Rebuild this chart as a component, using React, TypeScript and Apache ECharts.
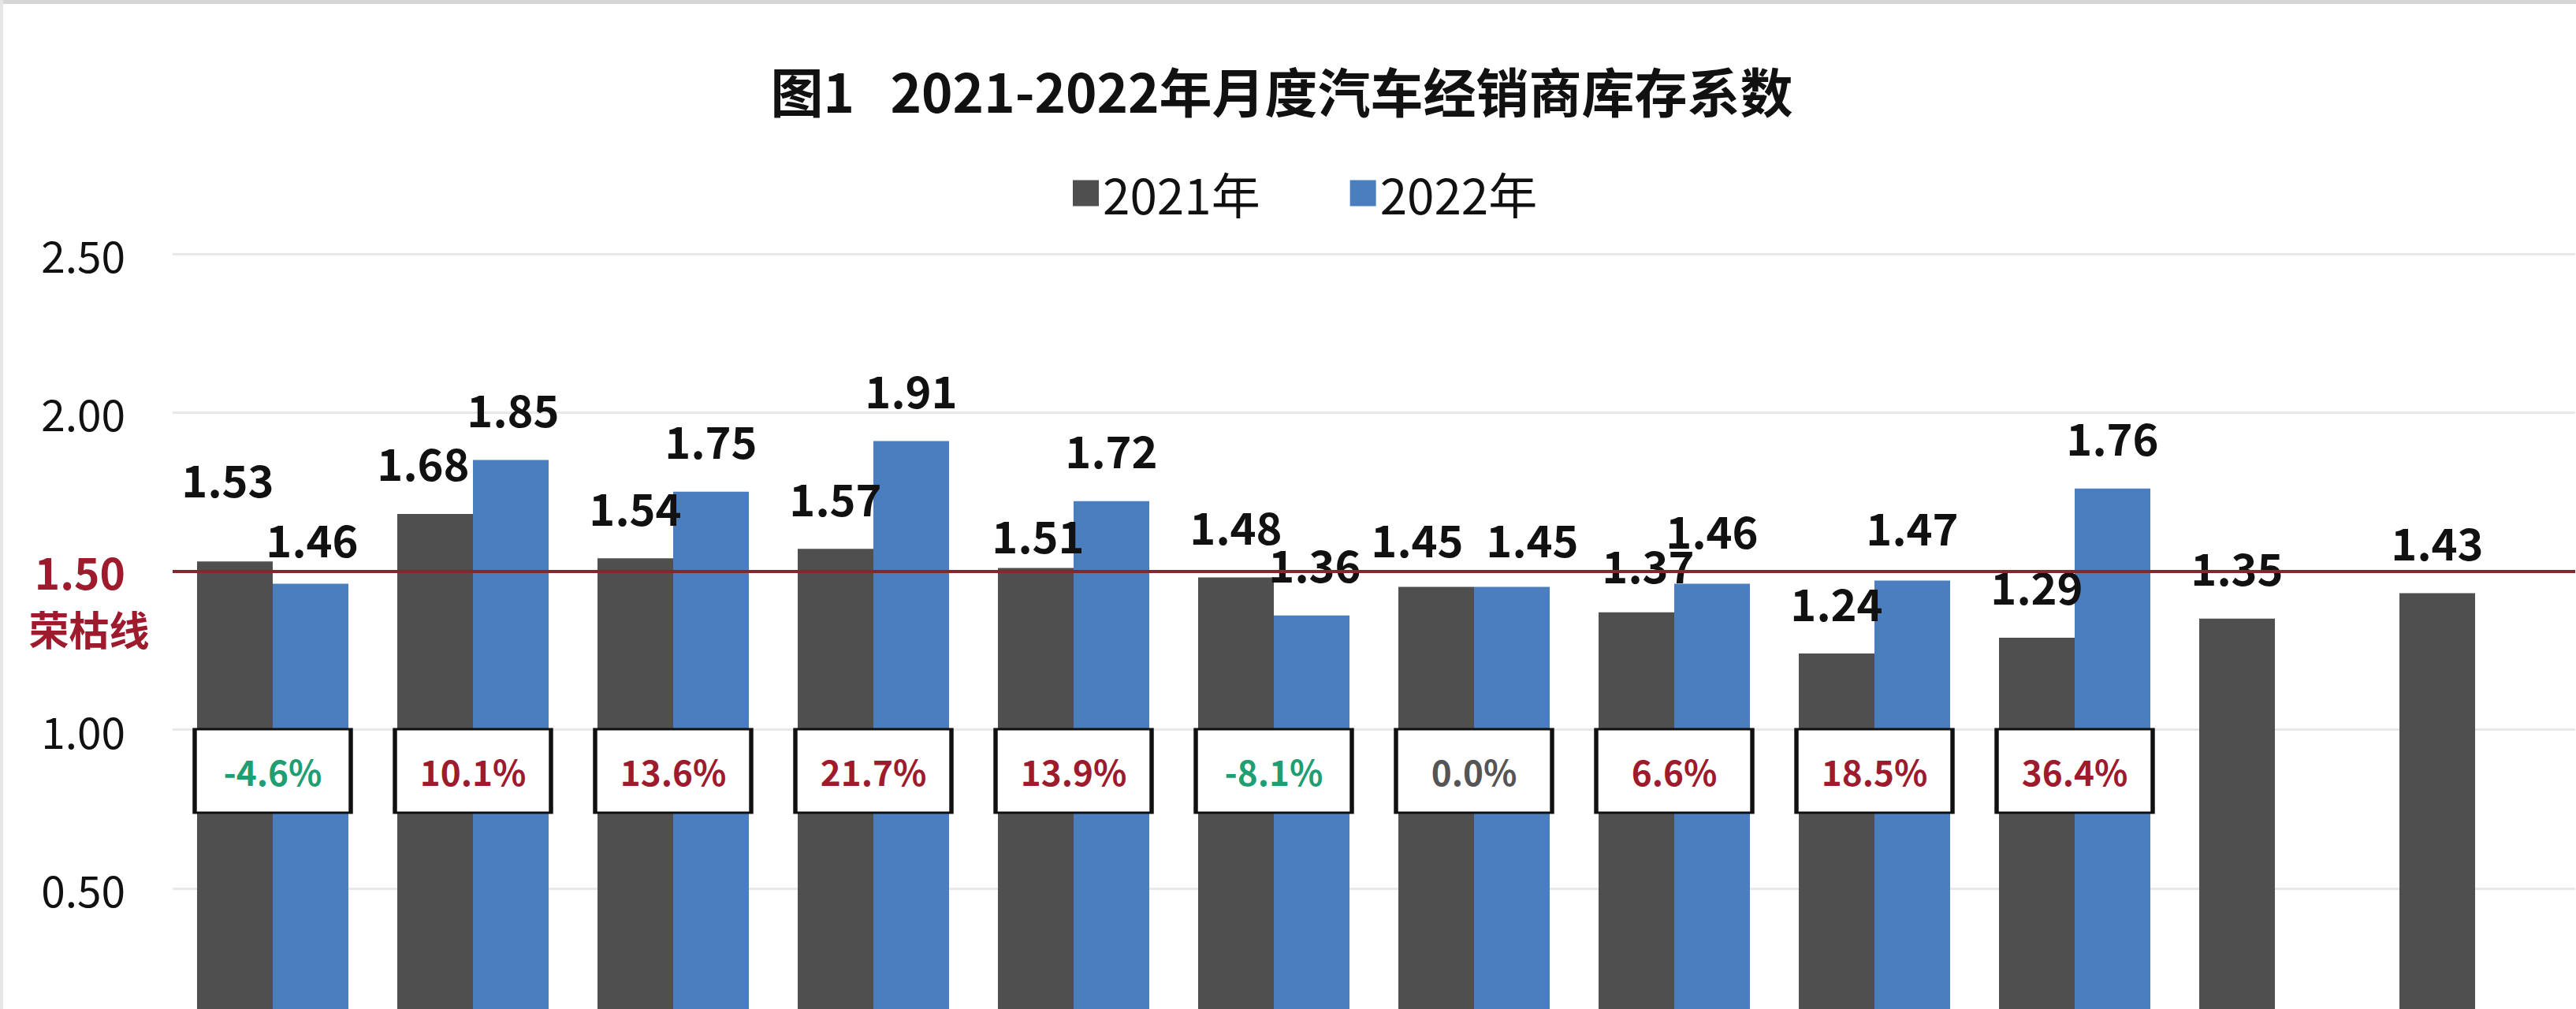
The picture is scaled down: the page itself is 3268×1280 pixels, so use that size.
import React, { useEffect, useRef } from "react";
import * as echarts from "echarts";

// ---- data ----
const months = ["1月", "2月", "3月", "4月", "5月", "6月", "7月", "8月", "9月", "10月", "11月", "12月"];
const values2021 = [1.53, 1.68, 1.54, 1.57, 1.51, 1.48, 1.45, 1.37, 1.24, 1.29, 1.35, 1.43];
const values2022 = [1.46, 1.85, 1.75, 1.91, 1.72, 1.36, 1.45, 1.46, 1.47, 1.76, null, null];
const yoyPercent = [-4.6, 10.1, 13.6, 21.7, 13.9, -8.1, 0.0, 6.6, 18.5, 36.4];
const thresholdValue = 1.5;
const thresholdName = "荣枯线";
const seriesNames = ["2021年", "2022年"];
const titleText = "图1   2021-2022年月度汽车经销商库存系数";

// ---- label nudges (style only, px) to mimic hand-placed labels ----
const nudge2021 = [[-9, -40], [-15, 0], [0, 0], [0, 0], [3, 23], [0, 0], [-24, 4], [15, 5], [0, 0], [0, 0], [0, 0], [0, 0]];
const nudge2022 = [[2, 8], [3, 0], [0, 0], [0, 0], [0, 0], [4, 0], [26, 4], [0, -3], [0, -3], [0, 0]];

const COLOR_2021 = "#4f4f4f";
const COLOR_2022 = "#4a7ebf";
const RED = "#9e1b2e";
const LINE_RED = "#7e2a2f";
const GREEN = "#1f9e74";
const FONT = "'Noto Sans CJK SC', 'Noto Sans', sans-serif";
const BOX_LEVEL = 0.87;

export default function App() {
  const ref = useRef<HTMLDivElement>(null);

  useEffect(() => {
    document.body.style.margin = "0";
    const chart = echarts.init(ref.current as HTMLDivElement, null, { renderer: "svg" });

    const dataLabel = {
      show: true,
      position: "top",
      distance: 38,
      fontSize: 56,
      fontWeight: "bold",
      color: "#111111",
      fontFamily: FONT,
      formatter: (p: any) => Number(p.value).toFixed(2),
    };

    const option: any = {
      animation: false,
      backgroundColor: "#ffffff",
      textStyle: { fontFamily: FONT },
      legend: {
        data: seriesNames,
        left: 1356,
        top: 209,
        itemWidth: 33,
        itemHeight: 33,
        itemGap: 114,
        icon: "rect",
        textStyle: { fontSize: 62, color: "#111111", fontFamily: FONT },
      },
      grid: { left: 219, right: 1, top: 322, height: 1006 },
      xAxis: {
        type: "category",
        data: months,
        axisLine: { show: false },
        axisTick: { show: false },
        axisLabel: { show: false },
      },
      yAxis: {
        type: "value",
        min: 0,
        max: 2.5,
        interval: 0.5,
        axisLine: { show: false },
        axisTick: { show: false },
        splitLine: { lineStyle: { color: "#e8e8e8", width: 3 } },
        axisLabel: {
          margin: 60,
          fontSize: 55,
          color: "#111111",
          fontFamily: FONT,
          formatter: (v: number) =>
            v === 0
              ? ""
              : Math.abs(v - thresholdValue) < 1e-9
              ? "{r|" + v.toFixed(2) + "}"
              : v.toFixed(2),
          rich: {
            r: { color: RED, fontWeight: "bold", fontSize: 55, fontFamily: FONT },
          },
        },
      },
      series: [
        {
          name: seriesNames[0],
          type: "bar",
          barWidth: 96,
          barGap: "0%",
          itemStyle: { color: COLOR_2021 },
          label: dataLabel,
          data: values2021.map((v, i) => ({ value: v, label: { offset: nudge2021[i] } })),
          markLine: {
            silent: true,
            symbol: "none",
            z: 5,
            label: { show: false },
            lineStyle: { color: LINE_RED, width: 4, type: "solid" },
            data: [{ yAxis: thresholdValue }],
          },
        },
        {
          name: seriesNames[1],
          type: "bar",
          barWidth: 96,
          barGap: "0%",
          itemStyle: { color: COLOR_2022 },
          label: dataLabel,
          data: values2022.map((v, i) =>
            v === null ? "-" : { value: v, label: { offset: nudge2022[i] } }
          ),
        },
        {
          name: "同比",
          type: "scatter",
          symbol: "rect",
          symbolSize: [198, 106],
          z: 10,
          silent: true,
          itemStyle: { color: "#ffffff", borderColor: "#111111", borderWidth: 4, opacity: 1 },
          label: {
            show: true,
            position: "inside",
            fontSize: 44,
            fontWeight: "bold",
            fontFamily: FONT,
          },
          data: yoyPercent.map((p, i) => ({
            value: [i, BOX_LEVEL],
            label: {
              formatter: p.toFixed(1) + "%",
              color: p > 0 ? RED : p < 0 ? GREEN : "#555555",
            },
          })),
        },
      ],
    };

    chart.setOption(option);

    const yLine = chart.convertToPixel({ yAxisIndex: 0 }, thresholdValue) as number;

    chart.setOption({
      graphic: [
        {
          type: "rect",
          shape: { x: 0, y: 0, width: 3268, height: 5 },
          style: { fill: "#d6d6d6" },
          silent: true,
        },
        {
          type: "rect",
          shape: { x: 0, y: 0, width: 4, height: 1340 },
          style: { fill: "#e6e6e6" },
          silent: true,
        },
        {
          type: "text",
          x: 1626,
          y: 113,
          style: {
            text: titleText,
            fontSize: 67,
            fontWeight: "bold",
            fontFamily: FONT,
            fill: "#111111",
            align: "center",
            verticalAlign: "middle",
          },
        },
        {
          type: "text",
          x: 113,
          y: yLine + 73,
          style: {
            text: thresholdName,
            fontSize: 51,
            fontWeight: "bold",
            fontFamily: FONT,
            fill: RED,
            align: "center",
            verticalAlign: "middle",
          },
        },
      ],
    });

    return () => chart.dispose();
  }, []);

  return (
    <div style={{ width: 3268, height: 1280, overflow: "hidden", position: "relative" }}>
      <div ref={ref} style={{ width: 3268, height: 1340 }} />
    </div>
  );
}
